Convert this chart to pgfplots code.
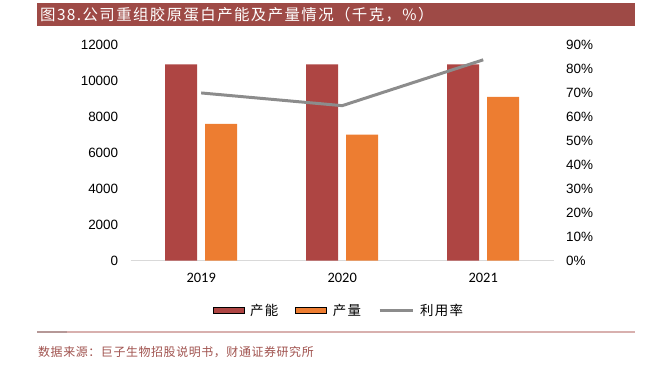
\documentclass[border=0pt]{standalone}
\usepackage{pgfplots}
\pgfplotsset{compat=1.18}
\usepackage{fontspec}
\setmainfont{Liberation Sans}
\newfontfamily\cjk{Noto Sans CJK SC}
\newfontfamily\cjkt[LetterSpace=9]{Noto Sans CJK SC}
\newfontfamily\cjkl[LetterSpace=10]{Noto Sans CJK SC}
\newfontfamily\cjks[LetterSpace=5]{Noto Sans CJK SC}
\newfontfamily\carl{Carlito}
\definecolor{titlered}{HTML}{9E4A46}
\definecolor{barred}{HTML}{AE4543}
\definecolor{barorange}{HTML}{ED7D31}
\definecolor{linegray}{HTML}{8C8C8C}
\definecolor{rulecol}{HTML}{D8B0AE}
\definecolor{srccol}{HTML}{A0524E}
\definecolor{axiscol}{HTML}{D9D9D9}
\begin{document}
\begin{tikzpicture}
\useasboundingbox (0bp,0bp) rectangle (664bp,365bp);
\fill[titlered] (37bp,339bp) rectangle (635bp,362bp);
\node[anchor=west, text=white, font=\cjkt\fontsize{15.5}{17}\selectfont, inner sep=0] at (40bp,350.5bp) {图38.公司重组胶原蛋白产能及产量情况（千克，\%）};
\draw[rulecol, line width=1.3bp] (37bp,33bp) -- (635bp,33bp);
\draw[rulecol!80!black!90, line width=1.3bp] (37bp,33bp) -- (67bp,33bp);
\node[anchor=west, text=srccol, font=\cjks\fontsize{12}{14}\selectfont, inner sep=0] at (38bp,13bp) {数据来源：巨子生物招股说明书，财通证券研究所};
\begin{axis}[
  at={(130.7bp,104.3bp)}, anchor=south west,
  scale only axis, width=423bp, height=216bp,
  xmin=-0.5, xmax=2.5, ymin=0, ymax=12000,
  xtick={0,1,2}, xticklabels={2019,2020,2021},
  ytick={0,2000,...,12000},
  ybar=8bp, bar width=32bp,
  axis line style={draw=none},
  axis x line*=bottom,
  axis y line*=left,
  major tick length=0,
  x axis line style={draw=axiscol, line width=1bp},
  xticklabel style={font=\carl\fontsize{14.5}{16}\selectfont, yshift=-9bp},
  yticklabel style={font=\fontsize{13.5}{15}\selectfont, xshift=-9bp},
  /pgf/number format/assume math mode=true,
  scaled y ticks=false,
  yticklabel={\pgfmathprintnumber[fixed,1000 sep={}]{\tick}},
  clip=false,
]
\addplot[fill=barred, draw=none] coordinates {(0,10900) (1,10900) (2,10900)};
\addplot[fill=barorange, draw=none] coordinates {(0,7600) (1,7000) (2,9100)};
\end{axis}
\begin{axis}[
  at={(130.7bp,104.3bp)}, anchor=south west,
  scale only axis, width=423bp, height=216bp,
  xmin=-0.5, xmax=2.5, ymin=0, ymax=90,
  axis line style={draw=none},
  axis y line*=right, axis x line=none,
  ytick={0,10,...,90},
  major tick length=0,
  yticklabel style={font=\fontsize{13.5}{15}\selectfont, xshift=9bp},
  /pgf/number format/assume math mode=true,
  yticklabel={\pgfmathprintnumber{\tick}\%},
  legend style={at={(0.49,-0.23)}, anchor=center, draw=none, legend columns=3,
    font=\cjkl\fontsize{13.5}{15}\selectfont,
    nodes={inner xsep=0pt},
    /tikz/every odd column/.append style={column sep=6bp},
    /tikz/every even column/.append style={column sep=17bp}},
  legend image code/.code={\draw[#1] (0,-3bp) rectangle (31bp,3bp);},
  clip=false,
]
\addlegendimage{fill=barred, draw=none}
\addlegendentry{产能}
\addlegendimage{fill=barorange, draw=none}
\addlegendentry{产量}
\addplot[linegray, line width=3bp, forget plot] coordinates {(0,69.9) (1,64.6) (2,83.7)};
\addlegendimage{legend image code/.code={\draw[linegray, line width=3bp] (0,0) -- (33bp,0);}}
\addlegendentry{利用率}
\end{axis}
\end{tikzpicture}
\end{document}
